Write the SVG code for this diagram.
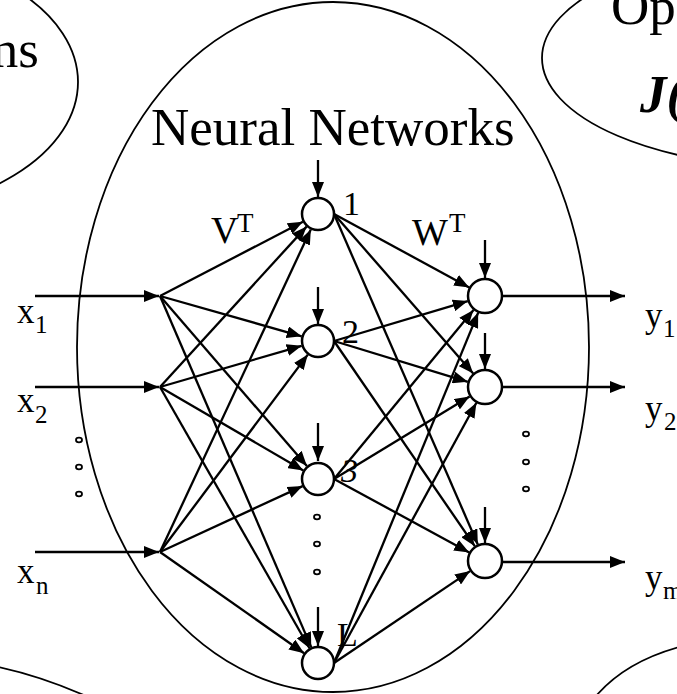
<svg xmlns="http://www.w3.org/2000/svg" width="677" height="694" viewBox="0 0 677 694">
<defs>
<marker id="ah" markerUnits="userSpaceOnUse" markerWidth="16" markerHeight="12" refX="15" refY="6" orient="auto">
<path d="M0,0 L15,6 L0,12 z" fill="#000"/>
</marker>
<style>
.bg{fill:none;stroke:#000;stroke-width:1.8}
.c line{stroke:#000;stroke-width:2.3;marker-end:url(#ah)}
.n circle{fill:#fff;stroke:#000;stroke-width:2.5}
.dot{fill:#fff;stroke:#000;stroke-width:1.8}
text{font-family:"Liberation Serif","Times New Roman",serif;fill:#000}
.lb{font-size:35px}
.sb{font-size:25px}
.big{font-size:53px}
.num{font-size:34px}
</style>
</defs>
<rect width="677" height="694" fill="#fff"/>
<g id="ellipse-left-top"><ellipse class="bg" cx="-140" cy="82" rx="218" ry="132"/><text class="big" x="39" y="67" text-anchor="end">ns</text></g>
<g id="ellipse-right-top"><ellipse class="bg" cx="800" cy="58" rx="258" ry="110"/><text class="big" x="611" y="24">Op</text><text class="big" x="640" y="112" font-style="italic" font-weight="bold">J(</text></g>
<g id="ellipse-left-bottom"><path class="bg" d="M-2,667 Q40,676 86,696"/></g>
<g id="ellipse-right-bottom"><path class="bg" d="M596,696 Q625,662 679,647"/></g>
<g id="neural-networks"><ellipse class="bg" cx="333" cy="347" rx="256" ry="345"/><text class="big" x="151" y="145">Neural Networks</text></g>
<g id="connectors" class="c">
<line x1="35" y1="296" x2="159" y2="296"/>
<line x1="35" y1="387" x2="159" y2="387"/>
<line x1="35" y1="552" x2="159" y2="552"/>
<line x1="160" y1="296" x2="302.9" y2="221.8"/>
<line x1="160" y1="296" x2="301.7" y2="336.3"/>
<line x1="160" y1="296" x2="306.9" y2="466.1"/>
<line x1="160" y1="296" x2="311.3" y2="647.4"/>
<line x1="160" y1="387" x2="306.6" y2="226.6"/>
<line x1="160" y1="387" x2="301.7" y2="345.8"/>
<line x1="160" y1="387" x2="303.3" y2="470.5"/>
<line x1="160" y1="387" x2="309.5" y2="648.3"/>
<line x1="160" y1="552" x2="310.8" y2="229.4"/>
<line x1="160" y1="552" x2="307.8" y2="354.6"/>
<line x1="160" y1="552" x2="302.6" y2="486.1"/>
<line x1="160" y1="552" x2="304.1" y2="653.2"/>
<line x1="334" y1="214" x2="469.2" y2="287.4"/>
<line x1="334" y1="214" x2="473.2" y2="373.4"/>
<line x1="334" y1="214" x2="477.8" y2="544.5"/>
<line x1="334" y1="341" x2="467.8" y2="301.1"/>
<line x1="334" y1="341" x2="467.8" y2="381.8"/>
<line x1="334" y1="341" x2="474.8" y2="546.2"/>
<line x1="334" y1="479" x2="473.5" y2="309.9"/>
<line x1="334" y1="479" x2="469.6" y2="396.4"/>
<line x1="334" y1="479" x2="469.2" y2="552.4"/>
<line x1="334" y1="663" x2="478.2" y2="312.6"/>
<line x1="334" y1="663" x2="476.4" y2="402.8"/>
<line x1="334" y1="663" x2="470.1" y2="571.1"/>
<line x1="318" y1="160" x2="318" y2="197"/>
<line x1="318" y1="287" x2="318" y2="324"/>
<line x1="318" y1="423" x2="318" y2="461"/>
<line x1="318" y1="607" x2="318" y2="646"/>
<line x1="485" y1="240" x2="485" y2="278"/>
<line x1="485" y1="333" x2="485" y2="369"/>
<line x1="485" y1="507" x2="485" y2="543"/>
<line x1="502" y1="296" x2="625" y2="296"/>
<line x1="502" y1="387" x2="625" y2="387"/>
<line x1="502" y1="562" x2="625" y2="562"/>
</g>
<g id="hidden-1" class="n"><circle cx="318" cy="214" r="16"/><text class="num" x="343" y="215">1</text></g>
<g id="hidden-2" class="n"><circle cx="318" cy="341" r="16"/><text class="num" x="342" y="343">2</text></g>
<g id="hidden-3" class="n"><circle cx="318" cy="479" r="16"/><text class="num" x="341" y="482" font-style="italic">3</text></g>
<g id="hidden-L" class="n"><circle cx="318" cy="663" r="16"/><text class="num" x="337" y="646">L</text></g>
<g id="output-1" class="n"><circle cx="485" cy="296" r="17"/></g>
<g id="output-2" class="n"><circle cx="485" cy="387" r="17"/></g>
<g id="output-m" class="n"><circle cx="485" cy="561" r="17"/></g>
<g id="dots">
<ellipse class="dot" cx="79" cy="440" rx="3" ry="2.3"/><ellipse class="dot" cx="79" cy="467" rx="3" ry="2.3"/><ellipse class="dot" cx="79" cy="494" rx="3" ry="2.3"/>
<ellipse class="dot" cx="317" cy="517" rx="3" ry="2.3"/><ellipse class="dot" cx="317" cy="544" rx="3" ry="2.3"/><ellipse class="dot" cx="317" cy="572" rx="3" ry="2.3"/>
<ellipse class="dot" cx="526" cy="434" rx="3" ry="2.3"/><ellipse class="dot" cx="526" cy="462" rx="3" ry="2.3"/><ellipse class="dot" cx="526" cy="489" rx="3" ry="2.3"/>
</g>
<g id="weights">
<text x="211" y="243" font-size="38px">V</text><text x="237" y="232" font-size="27px">T</text>
<text x="412" y="245" font-size="38px">W</text><text x="449" y="232" font-size="27px">T</text>
</g>
<g id="inputs">
<text class="lb" x="17" y="323">x</text><text class="sb" x="35" y="333">1</text>
<text class="lb" x="17" y="412">x</text><text class="sb" x="35" y="423">2</text>
<text class="lb" x="17" y="583">x</text><text class="sb" x="36" y="594">n</text>
</g>
<g id="outputs">
<text class="lb" x="645" y="327">y</text><text class="sb" x="663" y="337">1</text>
<text class="lb" x="645" y="420">y</text><text class="sb" x="664" y="430">2</text>
<text class="lb" x="645" y="589">y</text><text class="sb" x="663" y="599">m</text>
</g>
</svg>
